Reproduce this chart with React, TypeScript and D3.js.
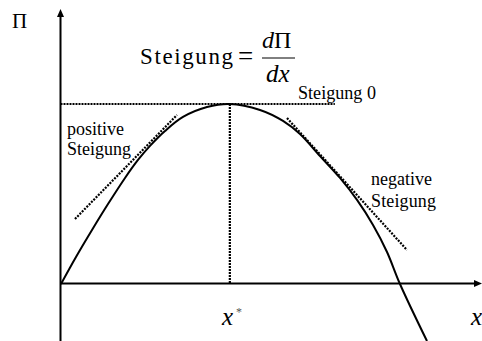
import React from "react";
import * as d3 from "d3";

if (typeof document !== "undefined") {
  document.body.style.margin = "0";
}

// Profit curve Π(x) (x in 0..100 units, Π in % of maximum)
const curveX = [0, 3.57, 7.38, 11.19, 15.24, 18.33, 21.19, 24.76, 29.05, 34.76, 40.2, 47.38, 52.86, 56.9, 61.67, 66.43, 70.48, 74.29, 77.62, 80.71, 87.14];
const curveY = [0, 15, 30, 44.4, 58.9, 68.9, 76.7, 85, 92.8, 98.3, 100, 96.7, 90.6, 83.3, 71.1, 58.9, 46.7, 32.8, 17.8, 0, -31.7];

// Tangent lines
const posTangentX = [3.33, 27.62];
const posTangentY = [36.1, 93.9];
const negTangentX = [53.81, 82.38];
const negTangentY = [92.2, 18.9];

// Optimum
const xStar = 40.2;
const maxProfit = 100;
const zeroSlopeEndX = 65.2;

const W = 482;
const H = 341;

const css = `
  .lbl { font-family: "Times New Roman", "Liberation Serif", serif; fill: #000; }
  .it { font-style: italic; }
`;

export default function App() {
  const x = d3.scaleLinear().domain([0, 100]).range([61, 481]);
  const y = d3.scaleLinear().domain([0, 100]).range([284, 104]);

  const line = d3
    .line<[number, number]>()
    .x((d) => x(d[0]))
    .y((d) => y(d[1]))
    .curve(d3.curveCatmullRom.alpha(0.5));
  const straight = d3
    .line<[number, number]>()
    .x((d) => x(d[0]))
    .y((d) => y(d[1]));

  const curvePts: [number, number][] = curveX.map((v, i) => [v, curveY[i]]);
  const posPts: [number, number][] = posTangentX.map((v, i) => [v, posTangentY[i]]);
  const negPts: [number, number][] = negTangentX.map((v, i) => [v, negTangentY[i]]);

  const x0 = x(0) - 0.5;
  const y0 = y(0) - 0.5;

  return (
    <svg width={W} height={H} fontFamily="Times New Roman">
      <style>{css}</style>
      <rect x={0} y={0} width={W} height={H} fill="#fff" />
      {/* axes */}
      <line x1={x0} y1={H} x2={x0} y2={15} stroke="#000" strokeWidth={2} />
      <path d={`M${x0},9 L${x0 - 3.5},17 L${x0 + 3.5},17 Z`} fill="#000" />
      <line x1={x0} y1={y0} x2={476} y2={y0} stroke="#000" strokeWidth={2} />
      <path d={`M482,${y0} L474,${y0 - 3.5} L474,${y0 + 3.5} Z`} fill="#000" />

      {/* zero slope dotted lines */}
      <line x1={x0} y1={y(maxProfit)} x2={x(zeroSlopeEndX)} y2={y(maxProfit)} stroke="#000" strokeWidth={2.2} strokeDasharray="2,1" />
      <line x1={x(xStar)} y1={y(maxProfit)} x2={x(xStar)} y2={y0} stroke="#000" strokeWidth={2.2} strokeDasharray="2,1" />

      {/* tangents */}
      <path d={straight(posPts) || ""} stroke="#000" strokeWidth={2.2} strokeDasharray="2,1.3" fill="none" />
      <path d={straight(negPts) || ""} stroke="#000" strokeWidth={2.2} strokeDasharray="2,1.3" fill="none" />

      {/* curve */}
      <path d={line(curvePts) || ""} stroke="#000" strokeWidth={2} fill="none" />

      {/* labels */}
      <text className="lbl" x={12} y={28} fontSize={21}>Π</text>

      <text className="lbl" x={140} y={64} fontSize={23} textLength={93} lengthAdjust="spacing">Steigung</text>
      <text className="lbl" x={238} y={65} fontSize={27}>=</text>
      <text className="lbl it" x={262} y={48} fontSize={24}>d</text>
      <text className="lbl" x={274} y={48} fontSize={24}>Π</text>
      <line x1={262} y1={58} x2={295} y2={58} stroke="#000" strokeWidth={1} />
      <text className="lbl it" x={266} y={82} fontSize={25}>dx</text>

      <text className="lbl" x={298} y={99} fontSize={18} textLength={78} lengthAdjust="spacingAndGlyphs">Steigung 0</text>

      <text className="lbl" x={67} y={135} fontSize={18}>positive</text>
      <text className="lbl" x={67} y={155} fontSize={18}>Steigung</text>

      <text className="lbl" x={371} y={185} fontSize={18}>negative</text>
      <text className="lbl" x={371} y={207} fontSize={18} textLength={65} lengthAdjust="spacing">Steigung</text>

      <text className="lbl it" x={222} y={325} fontSize={25}>x</text>
      <text className="lbl" x={236} y={316} fontSize={12} style={{ fill: "#555" }}>*</text>
      <text className="lbl it" x={471} y={325} fontSize={25}>x</text>
    </svg>
  );
}
